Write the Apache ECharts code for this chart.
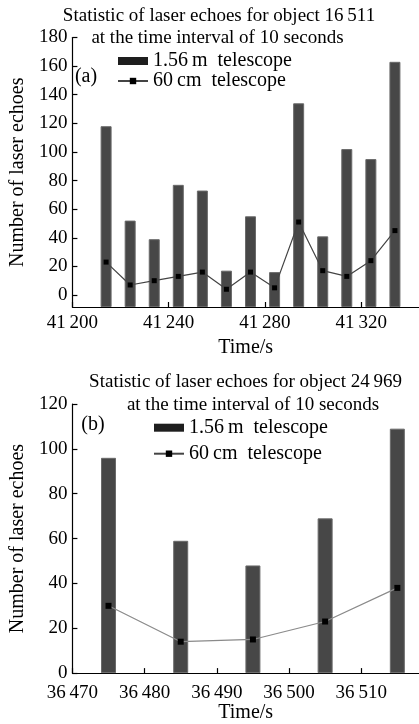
<!DOCTYPE html>
<html>
<head>
<meta charset="utf-8">
<script src="https://cdn.jsdelivr.net/npm/echarts@6/dist/echarts.min.js"></script>
<style>html,body{margin:0;padding:0;background:#fff}#c{width:419px;height:724px}</style>
</head>
<body>
<div id="c"></div>
<script>
// Panel (a): object 16 511
const timesA = [41214, 41224, 41234, 41244, 41254, 41264, 41274, 41284, 41294, 41304, 41314, 41324, 41334];
const bigA = [118, 52, 39, 77, 73, 17, 55, 16, 134, 41, 102, 95, 163];
const smallA = [23, 7, 10, 13, 16, 4, 16, 5, 51, 17, 13, 24, 45];
const xTicksA = [41200, 41240, 41280, 41320];
const yTicksA = [0, 20, 40, 60, 80, 100, 120, 140, 160, 180];

// Panel (b): object 24 969
const timesB = [36475, 36485, 36495, 36505, 36515];
const bigB = [96, 59, 48, 69, 109];
const smallB = [30, 14, 15, 23, 38];
const xTicksB = [36470, 36480, 36490, 36500, 36510];
const yTicksB = [0, 20, 40, 60, 80, 100, 120];

const nameBig = '1.56\u2009m  telescope';
const nameSmall = '60\u2009cm  telescope';
const FONT = '"Liberation Serif", "Times New Roman", serif';

const pairs = (xs, ys) => xs.map((x, i) => [x, ys[i]]);
const fmtNum = v => { const s = String(v); return s.slice(0, s.length - 3) + '\u2009' + s.slice(-3); };

function xAxis(gi, min, max, ticks, margin, nameGap) {
  return {
    type: 'value', gridIndex: gi, min: min, max: max,
    name: 'Time/s', nameLocation: 'middle', nameGap: nameGap,
    nameTextStyle: { fontFamily: FONT, fontSize: 20, color: '#000' },
    axisLine: { show: true, onZero: false, lineStyle: { color: '#000', width: 1.2 } },
    axisTick: { show: true, inside: true, length: 5, customValues: ticks, lineStyle: { color: '#000', width: 1.2 } },
    axisLabel: { customValues: ticks, margin: margin, fontFamily: FONT, fontSize: 19, color: '#000', formatter: fmtNum },
    splitLine: { show: false }
  };
}
function yAxis(gi, min, max, ticks, nameGap) {
  return {
    type: 'value', gridIndex: gi, min: min, max: max, startValue: min,
    name: 'Number of laser echoes', nameLocation: 'middle', nameGap: nameGap, nameRotate: 90,
    nameTextStyle: { fontFamily: FONT, fontSize: 20, color: '#000' },
    axisLine: { show: true, onZero: false, lineStyle: { color: '#000', width: 1.2 } },
    axisTick: { show: true, inside: true, length: 5, customValues: ticks, lineStyle: { color: '#000', width: 1.2 } },
    axisLabel: { customValues: ticks, margin: 5, fontFamily: FONT, fontSize: 19, color: '#000' },
    splitLine: { show: false }
  };
}
function legend(left, top, gap) {
  return {
    orient: 'vertical', left: left, top: top, padding: 0, itemGap: gap,
    itemWidth: 30, itemHeight: 8,
    textStyle: { fontFamily: FONT, fontSize: 20, color: '#000', lineHeight: 18 },
    data: [
      { name: nameBig, icon: 'rect', itemStyle: { color: '#1e1e1e', borderWidth: 0 } },
      { name: nameSmall }
    ]
  };
}
const barStyle = { color: '#474747', borderColor: '#6a6a6a', borderWidth: 1 };

const chart = echarts.init(document.getElementById('c'), null, { renderer: 'canvas' });
chart.setOption({
  animation: false,
  backgroundColor: '#fff',
  grid: [
    { left: 62, right: 0, top: 37.5, height: 269.5 },
    { left: 70.5, right: 0, top: 404, height: 270 }
  ],
  xAxis: [
    xAxis(0, 41200, 41344, xTicksA, 7, 31),
    xAxis(1, 36470, 36518, xTicksB, 10, 28)
  ],
  yAxis: [
    yAxis(0, -8.4, 180, yTicksA, 35),
    yAxis(1, 0, 120, yTicksB, 37)
  ],
  legend: [
    legend(117, 51, 0),
    legend(153, 417.7, 6)
  ],
  series: [
    { name: nameBig, type: 'bar', xAxisIndex: 0, yAxisIndex: 0, barWidth: 11, itemStyle: barStyle, data: pairs(timesA, bigA) },
    { name: nameSmall, type: 'line', xAxisIndex: 0, yAxisIndex: 0, symbol: 'rect', symbolSize: 5,
      itemStyle: { color: '#000' }, lineStyle: { color: '#444', width: 1.2 }, data: pairs(timesA, smallA) },
    { name: nameBig, type: 'bar', xAxisIndex: 1, yAxisIndex: 1, barWidth: 15, itemStyle: barStyle, data: pairs(timesB, bigB) },
    { name: nameSmall, type: 'line', xAxisIndex: 1, yAxisIndex: 1, symbol: 'rect', symbolSize: 6,
      itemStyle: { color: '#000' }, lineStyle: { color: '#8a8a8a', width: 1.2 }, data: pairs(timesB, smallB) }
  ],
  graphic: [
    { type: 'text', x: 219, y: 16, style: { text: 'Statistic of laser echoes for object 16\u2009511', font: '19px ' + FONT, fill: '#000', align: 'center', verticalAlign: 'middle' } },
    { type: 'text', x: 217.5, y: 38.5, style: { text: 'at the time interval of 10 seconds', font: '19px ' + FONT, fill: '#000', align: 'center', verticalAlign: 'middle' } },
    { type: 'text', x: 86, y: 77, style: { text: '(a)', font: '20px ' + FONT, fill: '#000', align: 'center', verticalAlign: 'middle' } },
    { type: 'text', x: 245.6, y: 382, style: { text: 'Statistic of laser echoes for object 24\u2009969', font: '19px ' + FONT, fill: '#000', align: 'center', verticalAlign: 'middle' } },
    { type: 'text', x: 253, y: 405, style: { text: 'at the time interval of 10 seconds', font: '19px ' + FONT, fill: '#000', align: 'center', verticalAlign: 'middle' } },
    { type: 'text', x: 93, y: 425, style: { text: '(b)', font: '20px ' + FONT, fill: '#000', align: 'center', verticalAlign: 'middle' } }
  ]
});
</script>
</body>
</html>
